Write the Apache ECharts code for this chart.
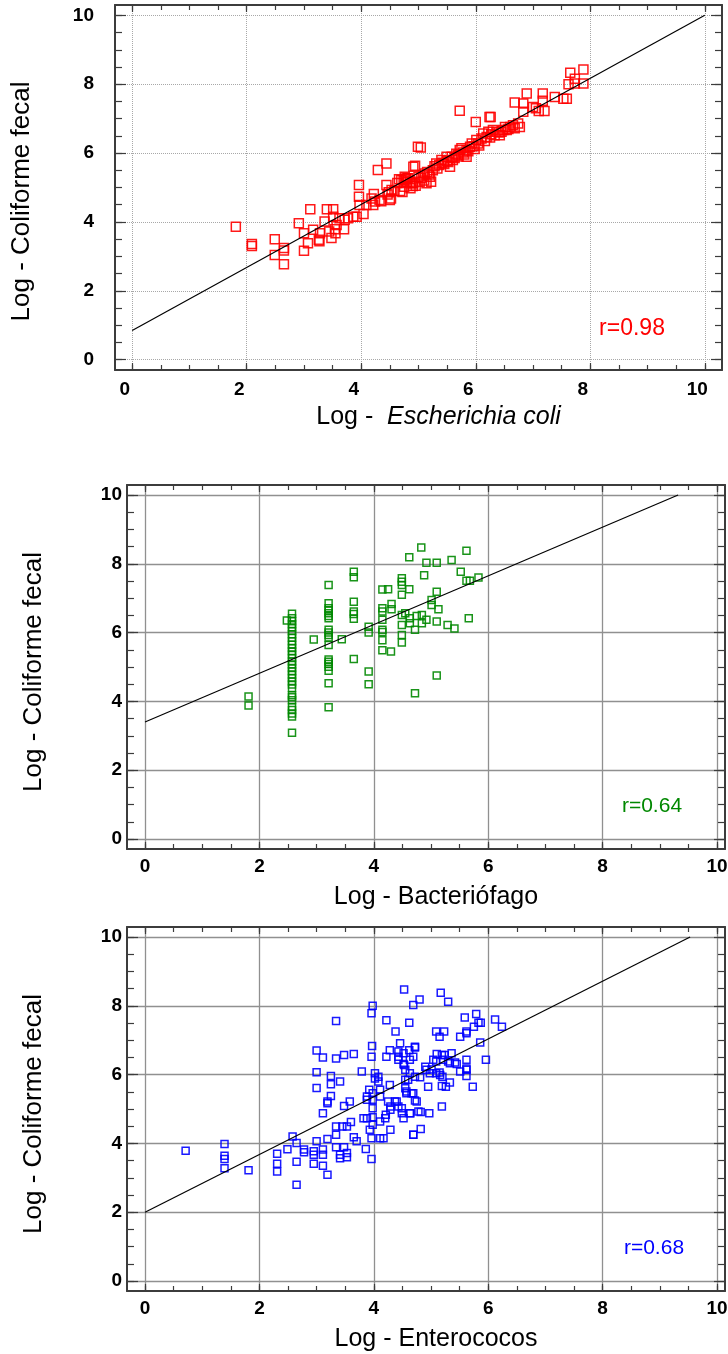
<!DOCTYPE html>
<html>
<head>
<meta charset="utf-8">
<script src="https://cdn.jsdelivr.net/npm/echarts@6/dist/echarts.min.js"></script>
<style>
  html, body { margin: 0; padding: 0; background: #fff; }
  #main { width: 728px; height: 1354px; }
</style>
</head>
<body>
<div id="main"></div>
<script>
// tick values (same for every panel, both axes)
var majorTicks = [0, 2, 4, 6, 8, 10];
var minorTicks = [0, 0.5, 1, 1.5, 2, 2.5, 3, 3.5, 4, 4.5, 5, 5.5, 6, 6.5, 7, 7.5, 8, 8.5, 9, 9.5, 10];

// panel 1: Log E. coli vs Log coliforme fecal
var ecoliPoints = [
  [1.81,3.86],[2.09,3.36],[2.09,3.30],[2.49,3.50],[2.49,3.04],[2.65,3.24],[2.65,3.17],[2.65,2.77],
  [2.91,3.96],[3.00,3.67],[3.00,3.16],[3.07,3.38],[3.11,4.37],[3.16,3.77],[3.26,3.48],[3.27,3.44],
  [3.28,3.67],[3.36,4.01],[3.40,4.37],[3.44,3.72],[3.48,3.53],[3.51,4.37],[3.51,4.15],[3.54,3.79],
  [3.55,3.67],[3.57,3.91],[3.62,4.11],[3.70,3.79],[3.71,4.06],[3.77,4.11],[3.86,4.15],[3.92,4.15],
  [3.96,5.07],[3.96,4.73],[3.97,4.49],[4.04,4.23],[4.09,4.49],[4.18,4.68],[4.21,4.49],[4.22,4.81],
  [4.24,4.59],[4.29,5.51],[4.32,4.64],[4.35,4.60],[4.44,5.07],[4.44,5.70],[4.46,4.80],[4.48,4.86],
  [4.50,4.64],[4.52,4.68],[4.53,4.93],[4.58,4.90],[4.63,5.13],[4.66,5.24],[4.68,4.90],[4.70,5.22],
  [4.72,4.87],[4.74,5.20],[4.75,5.02],[4.76,5.31],[4.78,5.24],[4.79,5.27],[4.80,5.16],[4.82,5.27],
  [4.85,5.17],[4.86,4.98],[4.88,5.12],[4.90,5.04],[4.91,5.12],[4.91,5.60],[4.94,5.63],[4.95,5.05],
  [4.99,6.18],[5.00,5.30],[5.02,5.17],[5.04,6.16],[5.05,5.27],[5.08,5.35],[5.10,5.20],[5.11,5.41],
  [5.14,5.12],[5.15,5.45],[5.18,5.38],[5.20,5.31],[5.22,5.17],[5.25,5.50],[5.28,5.62],[5.31,5.70],
  [5.33,5.55],[5.36,5.65],[5.40,5.80],[5.42,5.72],[5.45,5.68],[5.49,5.89],[5.50,5.78],[5.52,5.74],
  [5.55,5.60],[5.58,5.89],[5.60,5.80],[5.63,5.86],[5.66,5.98],[5.69,5.94],[5.70,5.90],[5.72,6.09],
  [5.72,7.23],[5.75,6.14],[5.78,6.02],[5.80,5.96],[5.84,6.09],[5.84,5.89],[5.87,6.05],[5.90,6.18],
  [5.93,6.28],[5.96,6.20],[5.98,6.12],[6.00,6.90],[6.01,6.38],[6.04,6.28],[6.06,6.22],[6.10,6.42],
  [6.13,6.57],[6.16,6.35],[6.19,6.47],[6.22,6.62],[6.24,7.05],[6.26,7.05],[6.25,6.45],[6.27,6.55],
  [6.30,6.67],[6.33,6.52],[6.36,6.62],[6.40,6.60],[6.42,6.52],[6.45,6.62],[6.48,6.67],[6.51,6.76],
  [6.54,6.67],[6.57,6.70],[6.60,6.76],[6.65,6.81],[6.68,6.72],[6.68,7.47],[6.74,6.86],[6.77,6.76],
  [6.83,7.44],[6.83,7.20],[6.89,7.73],[7.00,7.34],[7.05,7.30],[7.10,7.22],[7.17,7.73],[7.17,7.52],
  [7.20,7.22],[7.38,7.63],[7.53,7.58],[7.59,7.58],[7.62,8.00],[7.65,8.33],[7.73,8.16],[7.73,8.02],
  [7.88,8.43],[7.88,8.02]
];
var ecoliFit = [[0, 0.85], [10, 10.0]];

// panel 2: Log bacteriofago vs Log coliforme fecal
var bactPoints = [
  [1.81,4.14],[1.81,3.88],[2.48,6.35],
  [2.57,6.55],[2.57,6.42],[2.57,6.33],[2.57,6.24],[2.57,6.15],[2.57,6.05],[2.57,5.95],[2.57,5.85],
  [2.57,5.75],[2.57,5.65],[2.57,5.55],[2.57,5.46],[2.57,5.36],[2.57,5.26],[2.57,5.16],[2.57,5.07],
  [2.57,4.97],[2.57,4.88],[2.57,4.78],[2.57,4.68],[2.57,4.58],[2.57,4.49],[2.57,4.39],[2.57,4.18],
  [2.57,4.12],[2.57,4.03],[2.57,3.84],[2.57,3.75],[2.57,3.65],[2.57,3.56],[2.57,3.09],
  [2.95,5.80],
  [3.21,7.38],[3.21,6.85],[3.21,6.71],[3.21,6.64],[3.21,6.56],[3.21,6.48],[3.21,6.42],[3.21,6.08],
  [3.21,6.00],[3.21,5.93],[3.21,5.86],[3.21,5.64],[3.21,5.22],[3.21,5.15],[3.21,5.09],[3.21,5.01],
  [3.21,4.89],[3.21,4.53],[3.21,3.83],
  [3.44,5.81],
  [3.65,7.77],[3.65,7.61],[3.65,6.90],[3.65,6.61],[3.65,6.54],[3.65,6.40],[3.65,5.23],
  [3.91,6.17],[3.91,6.00],[3.91,4.87],[3.91,4.50],
  [4.15,7.25],[4.15,6.71],[4.15,6.61],[4.15,6.37],[4.15,6.08],[4.15,6.02],[4.15,5.78],[4.15,5.49],
  [4.25,7.26],[4.31,6.83],[4.31,6.68],[4.30,5.45],
  [4.49,7.58],[4.49,7.48],[4.49,7.38],[4.49,7.10],[4.49,6.51],[4.49,6.22],[4.49,5.93],[4.49,5.71],
  [4.55,6.56],[4.62,8.19],[4.62,7.26],[4.63,6.42],[4.63,6.27],[4.72,6.08],[4.72,4.24],[4.75,6.48],
  [4.83,8.47],[4.84,6.51],[4.84,6.27],[4.88,7.67],[4.92,8.03],[4.92,6.37],[5.01,6.95],[5.01,6.80],
  [5.10,8.03],[5.10,7.19],[5.10,6.32],[5.10,4.75],[5.13,6.68],[5.29,6.22],[5.36,8.11],[5.41,6.12],
  [5.52,7.77],[5.62,8.38],[5.62,7.51],[5.68,7.51],[5.66,6.42],[5.83,7.60]
];
var bactFit = [[0, 3.40], [9.32, 10]];

// panel 3: Log enterococos vs Log coliforme fecal
var enteroPoints = [
  [0.71,3.79],[1.39,3.98],[1.39,3.64],[1.39,3.55],[1.39,3.28],[1.81,3.22],[2.31,3.70],[2.31,3.41],
  [2.31,3.18],[2.49,3.83],[2.58,4.20],[2.65,4.01],[2.65,3.47],[2.65,2.80],[2.78,3.82],[2.78,3.74],
  [2.95,3.77],[2.95,3.67],[2.95,3.41],[3.00,6.70],[3.00,6.07],[3.00,5.61],[3.00,4.06],[3.11,6.50],
  [3.11,4.88],[3.11,3.82],[3.11,3.67],[3.11,3.35],[3.19,4.13],[3.19,3.09],[3.25,5.96],[3.25,5.72],
  [3.25,5.38],[3.19,5.22],[3.19,5.17],[3.34,7.56],[3.34,6.47],[3.34,4.49],[3.34,4.25],[3.34,3.89],
  [3.41,5.80],[3.41,3.67],[3.41,3.57],[3.48,6.57],[3.48,5.09],[3.45,4.49],[3.53,4.49],[3.48,3.89],
  [3.53,3.72],[3.53,3.60],[3.58,5.22],[3.60,4.62],[3.65,6.60],[3.65,4.18],[3.70,4.06],[3.79,6.09],
  [3.82,4.73],[3.86,3.84],[3.88,4.73],[3.88,5.36],[3.88,5.27],[3.92,5.56],[3.93,4.40],[3.96,7.78],
  [3.98,8.00],[3.97,6.83],[3.96,6.52],[3.96,4.15],[3.96,3.55],[3.98,5.46],[3.98,5.27],[3.98,5.02],
  [3.98,4.76],[3.98,4.54],[4.02,6.04],[4.02,5.89],[4.08,5.94],[4.08,5.80],[4.11,5.56],[4.11,5.36],
  [4.11,4.64],[4.11,4.15],[4.17,4.15],[4.20,4.73],[4.21,4.83],[4.22,7.58],[4.22,6.52],[4.25,5.22],
  [4.28,6.71],[4.28,5.70],[4.29,5.07],[4.29,4.98],[4.29,4.40],[4.38,7.25],[4.37,5.22],[4.40,5.22],
  [4.43,5.07],[4.46,6.91],[4.43,6.67],[4.43,6.52],[4.43,6.43],[4.49,5.02],[4.49,4.88],[4.52,4.73],
  [4.53,8.47],[4.53,6.28],[4.55,6.14],[4.55,5.85],[4.55,5.60],[4.57,5.46],[4.62,7.51],[4.62,6.71],
  [4.63,6.43],[4.63,6.04],[4.63,4.88],[4.66,5.46],[4.69,8.02],[4.69,4.25],[4.72,6.81],[4.72,5.94],
  [4.80,8.18],[4.75,5.22],[4.78,4.93],
  [5.17,8.38],[5.30,8.12],[5.59,7.66],[5.79,7.76],[5.83,7.51],[5.87,7.51],[6.12,7.60],[6.24,7.39],
  [5.09,7.25],[5.23,7.25],[5.15,7.10],[5.62,7.25],[5.62,7.20],[5.51,7.10],[5.75,7.39],[5.86,6.93],
  [4.72,6.79],[4.69,6.52],[4.52,6.62],[4.52,6.31],[5.10,6.60],[5.19,6.57],[5.24,6.57],[5.36,6.62],
  [5.04,6.43],[5.09,6.38],[5.21,6.43],[5.30,6.38],[5.33,6.33],[5.42,6.35],[5.45,6.31],[5.62,6.43],
  [5.62,6.18],[5.62,6.14],[5.96,6.43],[4.90,6.23],[4.92,6.14],[5.01,6.15],[4.98,6.04],[5.09,6.04],
  [5.15,6.06],[5.16,5.99],[5.20,5.94],[5.51,6.09],[5.62,5.96],[4.81,5.92],[4.60,5.85],[4.95,5.65],
  [5.19,5.67],[5.26,5.65],[5.33,5.77],[5.73,5.65],[4.69,5.46],[4.57,5.51],[4.72,5.25],[5.19,5.07],
  [4.82,4.91],[4.97,4.88],[4.64,4.88],[4.82,4.42],[4.69,4.25]
];
var enteroFit = [[0, 2.0], [9.53, 10]];

var FONT = '"Liberation Sans", Arial, Helvetica, sans-serif';
var myChart = echarts.init(document.getElementById('main'));

var panels = [
  {
    grid: {left: 115, top: 5, width: 607, height: 365},
    xMin: -0.3, xMax: 10.3, yMin: -0.3, yMax: 10.3,
    points: ecoliPoints, fit: ecoliFit, color: '#ff0000', size: 9,
    split: {color: '#a8a8a8', width: 1, type: 'dotted'},
    xName: 'Log -  {i|Escherichia coli}', xNamePad: [0, 0, 0, 40], xNameGap: 35,
    yLabelMargin: 21, yLabelPad: [6, 0, 0, 0], xLabelMargin: 10, xLabelPad: [0, 15, 0, 0],
    r: {text: 'r=0.98', x: 632, y: 329, size: 23}
  },
  {
    grid: {left: 127, top: 485, width: 598, height: 364},
    xMin: -0.315, xMax: 10.14, yMin: -0.29, yMax: 10.29,
    points: bactPoints, fit: bactFit, color: '#008800', size: 7,
    split: {color: '#909090', width: 1.3, type: 'solid'},
    xName: 'Log - Bacteriófago', xNamePad: [0, 0, 0, 20], xNameGap: 36,
    yLabelMargin: 5, yLabelPad: 0, xLabelMargin: 8, xLabelPad: 0,
    r: {text: 'r=0.64', x: 652, y: 806, size: 21}
  },
  {
    grid: {left: 127, top: 927, width: 598, height: 364},
    xMin: -0.315, xMax: 10.14, yMin: -0.29, yMax: 10.29,
    points: enteroPoints, fit: enteroFit, color: '#0000ff', size: 7,
    split: {color: '#909090', width: 1.3, type: 'solid'},
    xName: 'Log - Enterococos', xNamePad: [0, 0, 0, 20], xNameGap: 36,
    yLabelMargin: 5, yLabelPad: 0, xLabelMargin: 8, xLabelPad: 0,
    r: {text: 'r=0.68', x: 654, y: 1248, size: 21}
  }
];

var frameLine = {show: true, onZero: false, lineStyle: {color: '#3c3c3c', width: 2}};

function makeAxis(dim, g, p, position, major, withLabel) {
  var isX = dim === 'x';
  var ax = {
    type: 'value',
    gridIndex: g,
    position: position,
    min: isX ? p.xMin : p.yMin,
    max: isX ? p.xMax : p.yMax,
    axisLine: major ? frameLine : {show: false, onZero: false},
    axisTick: {
      show: true, inside: true,
      length: isX ? (major ? 7 : 5) : (major ? 11 : 7),
      customValues: major ? majorTicks : minorTicks,
      lineStyle: {color: '#3c3c3c', width: 1.2}
    },
    axisLabel: {show: false},
    splitLine: {show: false},
    nameMoveOverlap: false
  };
  if (withLabel) {
    ax.axisLabel = {
      show: true,
      customValues: majorTicks,
      color: '#000',
      fontFamily: FONT,
      fontWeight: 'bold',
      fontSize: 19,
      margin: isX ? p.xLabelMargin : p.yLabelMargin,
      padding: isX ? p.xLabelPad : p.yLabelPad
    };
    ax.splitLine = {show: true, lineStyle: p.split};
    ax.nameLocation = 'middle';
    ax.nameTextStyle = {color: '#000', fontFamily: FONT, fontSize: isX ? 25 : 26};
    if (isX) {
      ax.name = p.xName;
      ax.nameGap = p.xNameGap;
      ax.nameTextStyle.padding = p.xNamePad;
      ax.nameTextStyle.rich = {i: {fontStyle: 'italic', fontFamily: FONT, fontSize: 25, color: '#000'}};
    } else {
      ax.name = 'Log - Coliforme fecal';
      ax.nameGap = 80;
      ax.nameTextStyle.padding = g === 0 ? [0, 28, 0, 0] : [0, 10, 0, 0];
    }
  }
  return ax;
}

var grids = [], xAxes = [], yAxes = [], series = [], graphics = [];
panels.forEach(function (p, g) {
  grids.push(Object.assign({show: false, containLabel: false, outerBoundsMode: 'none'}, p.grid));
  xAxes.push(makeAxis('x', g, p, 'bottom', true, true));
  xAxes.push(makeAxis('x', g, p, 'bottom', false, false));
  xAxes.push(makeAxis('x', g, p, 'top', true, false));
  xAxes.push(makeAxis('x', g, p, 'top', false, false));
  yAxes.push(makeAxis('y', g, p, 'left', true, true));
  yAxes.push(makeAxis('y', g, p, 'left', false, false));
  yAxes.push(makeAxis('y', g, p, 'right', true, false));
  yAxes.push(makeAxis('y', g, p, 'right', false, false));

  series.push({
    type: 'scatter',
    xAxisIndex: 4 * g,
    yAxisIndex: 4 * g,
    data: p.points,
    symbol: 'rect',
    symbolSize: p.size,
    itemStyle: {color: 'rgba(0,0,0,0)', borderColor: p.color, borderWidth: 1.5, opacity: 0.9},
    z: 2
  });
  series.push({
    type: 'line',
    xAxisIndex: 4 * g,
    yAxisIndex: 4 * g,
    data: p.fit,
    showSymbol: false,
    symbol: 'none',
    lineStyle: {color: '#000', width: 1.2},
    z: 3
  });
  graphics.push({
    type: 'text',
    x: p.r.x,
    y: p.r.y,
    style: {
      text: p.r.text,
      fill: p.color,
      font: p.r.size + 'px ' + FONT,
      align: 'center',
      verticalAlign: 'middle'
    },
    z: 10
  });
});

var option = {
  backgroundColor: '#fff',
  animation: false,
  grid: grids,
  xAxis: xAxes,
  yAxis: yAxes,
  series: series,
  graphic: graphics
};

myChart.setOption(option);
</script>
</body>
</html>
